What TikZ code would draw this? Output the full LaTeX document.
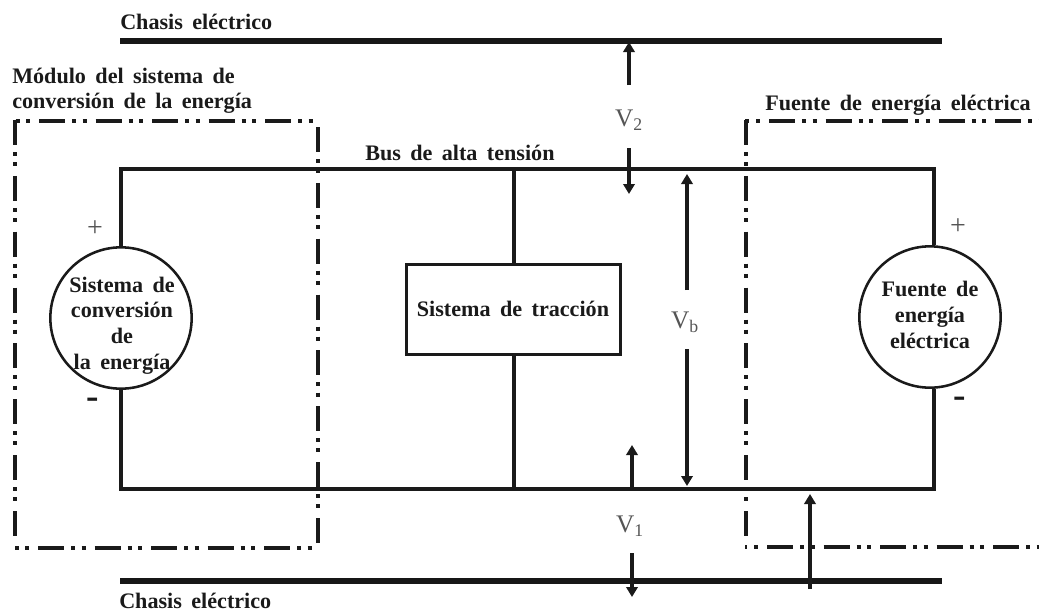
\documentclass[tikz,border=0pt]{standalone}
\usepackage{fontspec}
\setmainfont[WordSpace=1.7]{Liberation Serif}
\usetikzlibrary{arrows.meta}
\definecolor{vgray}{HTML}{555555}
\definecolor{ink}{HTML}{1A1A1A}
\tikzset{
  x=0.75pt,y=-0.75pt,
  wire/.style={draw=ink,line width=2.3pt},
  chassis/.style={draw=ink!90!black,line width=5pt},
  zoneh/.style={draw=ink,line width=2.3pt,dash pattern=on 19.5pt off 5.25pt on 3pt off 4.9pt on 3pt off 6.75pt},
  zonev/.style={draw=ink,line width=2.5pt,dash pattern=on 18.75pt off 5.25pt on 3pt off 4.6pt on 3pt off 7.3pt},
  arrowup/.style={draw=ink,line width=2.5pt,-{Triangle[length=7.5pt,width=8.5pt]}},
  source/.style={circle,draw=ink,line width=1.9pt,fill=white,minimum size=106pt,inner sep=0pt},
  loadbox/.style={rectangle,draw=ink,line width=2.3pt,minimum width=160pt,minimum height=67pt,inner sep=0pt},
  lab/.style={font=\bfseries\fontsize{16.6}{19.2}\selectfont,inner sep=0pt,color=ink,align=center},
  lableft/.style={lab,anchor=base west,align=left},
  volt/.style={font=\fontsize{19}{22}\selectfont,color=vgray,inner sep=0pt},
  plus/.style={font=\fontsize{21}{22}\selectfont,color=vgray,inner sep=0pt},
  minus/.style={font=\bfseries\fontsize{28}{28}\selectfont,color=ink,inner sep=0pt}
}
\begin{document}
\begin{tikzpicture}
\useasboundingbox (0,0) rectangle (1039,612);
% coordinates
\coordinate (cht1) at (120,41); \coordinate (cht2) at (942,41);
\coordinate (chb1) at (120,581); \coordinate (chb2) at (942,581);
\coordinate (tl) at (121,169); \coordinate (tm) at (514,169); \coordinate (tr) at (934,169);
\coordinate (bl) at (121,489); \coordinate (bm) at (514,489); \coordinate (br) at (934,489);
\coordinate (z1a) at (15,538); \coordinate (z1b) at (15,120); \coordinate (z1c) at (318,121); \coordinate (z1d) at (318,546);
\coordinate (z1e) at (15,548); \coordinate (z1f) at (316,548); \coordinate (z1g) at (14,121);
\coordinate (z2a) at (1039,121); \coordinate (z2b) at (745,121); \coordinate (z2c) at (746,120); \coordinate (z2d) at (746,539);
\coordinate (z2e) at (745,547); \coordinate (z2f) at (1039,547);
% zones
\draw[zonev] (z1b) -- (z1a);
\draw[zonev,dash phase=37.4pt] (z1c) -- (z1d);
\draw[zoneh,dash phase=23.6pt] (z1g) -- (z1c);
\draw[zoneh,dash phase=25.1pt] (z1e) -- (z1f);
\draw[zonev] (z2c) -- (z2d);
\draw[zoneh,dash phase=24.4pt] (z2b) -- (z2a);
\draw[zoneh,dash phase=25.9pt] (z2e) -- (z2f);
% nodes and wires
\node[source] (gen) at (121,318) {};
\node[source] (bat) at (930,317) {};
\node[loadbox] (load) at (513.5,309.5) {};
\draw[wire] (gen.north) -- (tl) -- (tr) -- (tr |- bat.north);
\draw[wire] (gen.south) -- (bl) -- (br) -- (br |- bat.south);
\draw[wire] (tm) -- (load.north -| tm);
\draw[wire] (load.south -| bm) -- (bm);
% chassis
\draw[chassis] (cht1) -- (cht2);
\draw[chassis] (chb1) -- (chb2);
% labels
\node[lab,align=center] (gentext) at (122,325.5) {Sistema de\\conversión\\de\\la energía};
\node[lab] (battext) at (930,315) {Fuente de\\energía\\eléctrica};
\node[lab] (loadtext) at (513,309) {Sistema de tracción};
\node[lableft] (l1) at (120,29) {Chasis eléctrico};
\node[lableft] (l2) at (119,608) {Chasis eléctrico};
\node[lableft] (l3) at (12,83) {Módulo del sistema de};
\node[lableft] (l4) at (12,108) {conversión de la energía};
\node[lableft] (l5) at (765,110) {Fuente de energía eléctrica};
\node[lableft] (l6) at (365,160) {Bus de alta tensión};
% voltage labels
\node[volt] (v2) at (629,120) {V\textsubscript{2}};
\node[volt] (vb) at (685,322) {V\textsubscript{b}};
\node[volt] (v1) at (630,526) {V\textsubscript{1}};
\node[plus] (p1) at (95,229) {+};
\node[plus] (p2) at (958,227) {+};
\node[minus] (m1) at (93,403) {-};
\node[minus] (m2) at (960,402) {-};
% arrows
\coordinate (a1) at (629,85); \coordinate (a2) at (629,42);
\coordinate (a3) at (629,148); \coordinate (a4) at (629,194);
\coordinate (a5) at (687,290); \coordinate (a6) at (687,174);
\coordinate (a7) at (687,349); \coordinate (a8) at (687,486);
\coordinate (a9) at (632,489); \coordinate (a10) at (632,445);
\coordinate (a11) at (632,553); \coordinate (a12) at (632,597);
\coordinate (a13) at (810,589); \coordinate (a14) at (810,494);
\foreach \s/\e in {a1/a2,a3/a4,a5/a6,a7/a8,a9/a10,a11/a12,a13/a14}
  \draw[arrowup] (\s) -- (\e);
\end{tikzpicture}
\end{document}
